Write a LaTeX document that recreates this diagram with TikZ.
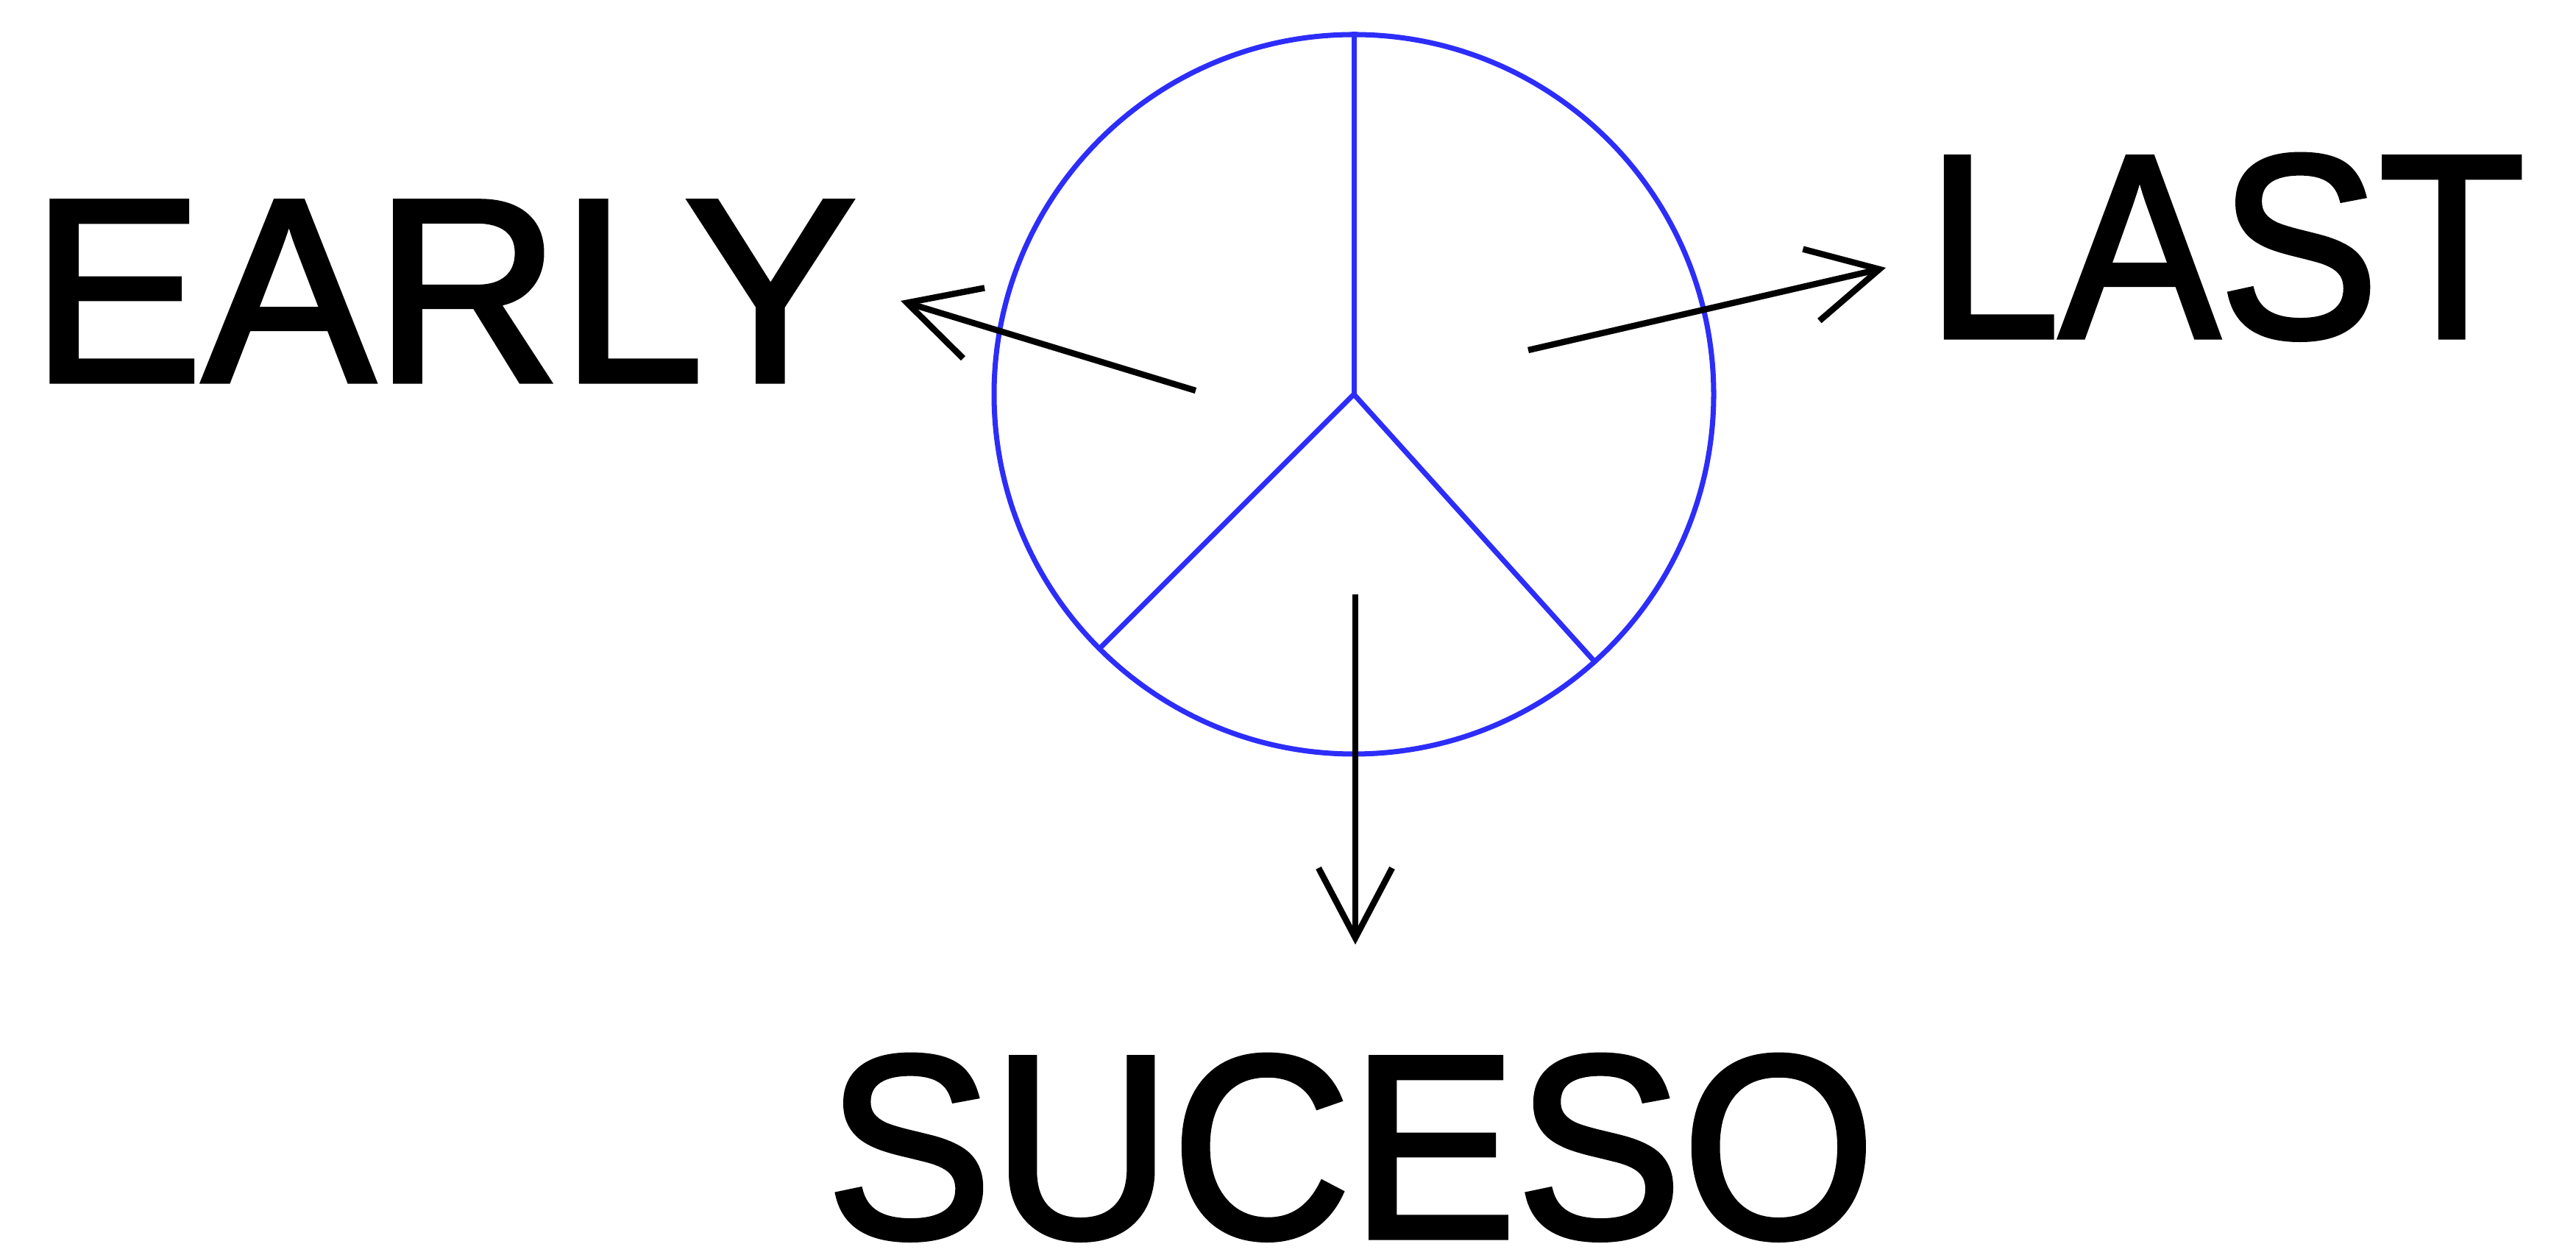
\documentclass[tikz,border=0pt]{standalone}
\usepackage{fontspec}
\usepackage{graphicx}
\setmainfont{Liberation Sans}[FakeBold=2]
\usetikzlibrary{arrows.meta}
\definecolor{ringblue}{RGB}{45,45,250}
\tikzset{
  ring/.style={draw=ringblue, line width=2.0pt},
  pointer/.style={draw=black, line width=2.4pt, -{Straight Barb[length=0.95cm,width=1.0cm,line width=2.4pt]}},
  bigword/.style={font=\fontsize{101}{112}\selectfont, inner sep=0pt, anchor=base}
}
\begin{document}
\begin{tikzpicture}
\useasboundingbox (0,0) rectangle (35.01,17.06);
\coordinate (c) at (18.40,11.70);
\node[ring, circle, minimum size=9.78cm, inner sep=0pt] (ring) at (c) {};
\draw[ring] (c) -- (ring.north);
\draw[ring] (c) -- (ring.225);
\draw[ring] (c) -- (ring.-48);
\coordinate (e1) at (16.25,11.75);
\coordinate (e2) at (12.24,12.97);
\coordinate (l1) at (20.77,12.30);
\coordinate (l2) at (25.63,13.42);
\coordinate (s1) at (18.42,8.98);
\coordinate (s2) at (18.42,4.22);
\draw[pointer] (e1) -- (e2);
\draw[pointer] (l1) -- (l2);
\draw[pointer] (s1) -- (s2);
\node[bigword] (early) at (6.03,11.88) {\scalebox{0.986}[1]{EARLY}};
\node[bigword] (last) at (30.25,12.48) {\scalebox{0.916}[1]{LAST}};
\node[bigword] (suceso) at (18.36,0.24) {\scalebox{0.951}[1]{SUCESO}};
\end{tikzpicture}
\end{document}
